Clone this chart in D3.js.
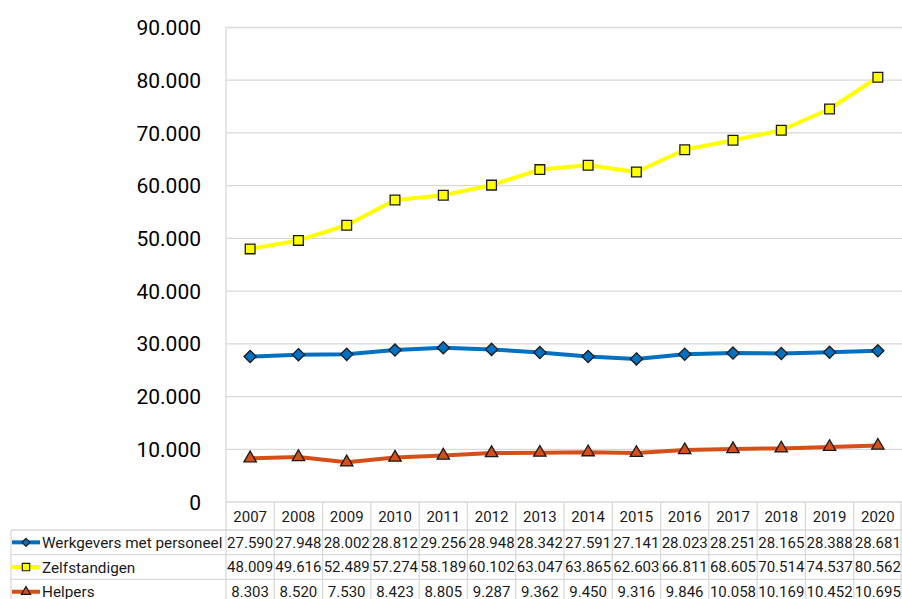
<!DOCTYPE html>
<html>
<head>
<meta charset="utf-8">
<script src="https://cdn.jsdelivr.net/npm/d3@7"></script>
<style>
body { margin: 0; background: #fff; }
svg { font-family: Roboto, "Noto Sans", sans-serif; }
</style>
</head>
<body>
<div id="chart"></div>
<script>
var years = ["2007", "2008", "2009", "2010", "2011", "2012", "2013", "2014", "2015", "2016", "2017", "2018", "2019", "2020"];

var werkgevers = [27590, 27948, 28002, 28812, 29256, 28948, 28342, 27591, 27141, 28023, 28251, 28165, 28388, 28681];
var zelfstandigen = [48009, 49616, 52489, 57274, 58189, 60102, 63047, 63865, 62603, 66811, 68605, 70514, 74537, 80562];
var helpers = [8303, 8520, 7530, 8423, 8805, 9287, 9362, 9450, 9316, 9846, 10058, 10169, 10452, 10695];

var seriesNames = ["Werkgevers met personeel", "Zelfstandigen", "Helpers"];
var yTicks = [0, 10000, 20000, 30000, 40000, 50000, 60000, 70000, 80000, 90000];

var series = [
    {name: seriesNames[0], values: werkgevers, color: "#0070c0", marker: "diamond"},
    {name: seriesNames[1], values: zelfstandigen, color: "#ffff00", marker: "square"},
    {name: seriesNames[2], values: helpers, color: "#d55019", marker: "triangle"}
];

var nl = d3.formatLocale({decimal: ",", thousands: ".", grouping: [3], currency: ["€", ""]});
var fmt = nl.format(",d");

var width = 902, height = 599;
var plotLeft = 226, plotRight = 902, plotTop = 27.5, plotBottom = 502;
var rowH = 24.7;

var svg = d3.select("#chart").append("svg")
    .attr("width", width)
    .attr("height", height);

var x = d3.scaleBand()
    .domain(years)
    .range([plotLeft, plotRight]);

var y = d3.scaleLinear()
    .domain([0, 90000])
    .range([plotBottom, plotTop]);

// gridlines
svg.append("g")
    .selectAll("line")
    .data(yTicks.slice(1))
    .enter().append("line")
    .attr("x1", plotLeft).attr("x2", plotRight)
    .attr("y1", function(d) { return y(d); })
    .attr("y2", function(d) { return y(d); })
    .attr("stroke", "#d9d9d9")
    .attr("stroke-width", 1.3);

// y labels
svg.append("g")
    .selectAll("text")
    .data(yTicks)
    .enter().append("text")
    .attr("x", 201)
    .attr("y", function(d) { return y(d); })
    .attr("dy", "0.36em")
    .attr("text-anchor", "end")
    .attr("font-size", 21)
    .attr("fill", "#000")
    .text(function(d) { return fmt(d); });

// table grid
var tableTop = plotBottom;
var gridColor = "#d9d9d9";
var tg = svg.append("g").attr("stroke", gridColor).attr("stroke-width", 1.3);

// vertical lines at band edges (axis included)
var edges = years.map(function(d) { return x(d); }).concat([plotRight - 1]);
tg.selectAll("line.v")
    .data(edges)
    .enter().append("line")
    .attr("class", "v")
    .attr("x1", function(d) { return d; }).attr("x2", function(d) { return d; })
    .attr("y1", function(d, i) { return i === 0 ? plotTop : tableTop; })
    .attr("y2", height);

// horizontal lines
var hLines = [tableTop, tableTop + 28, tableTop + 28 + rowH, tableTop + 28 + 2 * rowH];
tg.selectAll("line.h")
    .data(hLines)
    .enter().append("line")
    .attr("class", "h")
    .attr("x1", function(d, i) { return i === 0 ? plotLeft : 11; })
    .attr("x2", plotRight)
    .attr("y1", function(d) { return d; })
    .attr("y2", function(d) { return d; });

tg.append("line")
    .attr("x1", 11).attr("x2", 11)
    .attr("y1", tableTop + 28).attr("y2", height);

// year header
svg.append("g")
    .selectAll("text")
    .data(years)
    .enter().append("text")
    .attr("x", function(d) { return x(d) + x.bandwidth() / 2; })
    .attr("y", tableTop + 15)
    .attr("dy", "0.36em")
    .attr("text-anchor", "middle")
    .attr("font-size", 15)
    .attr("fill", "#1a1a1a")
    .text(function(d) { return d; });

var markerPath = {
    diamond: d3.symbol().type(d3.symbolDiamond2).size(95),
    square: d3.symbol().type(d3.symbolSquare2).size(120),
    triangle: d3.symbol().type(d3.symbolTriangle2).size(110)
};

var line = d3.line()
    .x(function(d, i) { return x(years[i]) + x.bandwidth() / 2; })
    .y(function(d) { return y(d); });

series.forEach(function(s, k) {
    var g = svg.append("g");
    g.append("path")
        .datum(s.values)
        .attr("fill", "none")
        .attr("stroke", s.color)
        .attr("stroke-width", 4)
        .attr("stroke-linejoin", "round")
        .attr("d", line);

    g.selectAll("path.mk")
        .data(s.values)
        .enter().append("path")
        .attr("class", "mk")
        .attr("transform", function(d, i) {
            return "translate(" + (x(years[i]) + x.bandwidth() / 2) + "," + y(d) + ")";
        })
        .attr("d", markerPath[s.marker])
        .attr("fill", s.color)
        .attr("stroke", "#1a1a1a")
        .attr("stroke-width", 1.3);

    // table row
    var rowY = tableTop + 28 + k * rowH + rowH / 2;
    var lg = svg.append("g");
    lg.append("line")
        .attr("x1", 12).attr("x2", 40)
        .attr("y1", rowY).attr("y2", rowY)
        .attr("stroke", s.color)
        .attr("stroke-width", 4);
    var legMark = {
        diamond: d3.symbol().type(d3.symbolDiamond2).size(40),
        square: d3.symbol().type(d3.symbolSquare2).size(70),
        triangle: d3.symbol().type(d3.symbolTriangle2).size(60)
    };
    lg.append("path")
        .attr("transform", "translate(26," + rowY + ")")
        .attr("d", legMark[s.marker])
        .attr("fill", s.color)
        .attr("stroke", "#1a1a1a")
        .attr("stroke-width", 1.2);
    lg.append("text")
        .attr("x", 42)
        .attr("y", rowY)
        .attr("dy", "0.36em")
        .attr("font-size", 15.3)
        .attr("fill", "#1a1a1a")
        .text(s.name);

    svg.append("g")
        .selectAll("text")
        .data(s.values)
        .enter().append("text")
        .attr("x", function(d, i) { return x(years[i]) + x.bandwidth() / 2; })
        .attr("y", rowY)
        .attr("dy", "0.36em")
        .attr("text-anchor", "middle")
        .attr("font-size", 15)
        .attr("fill", "#1a1a1a")
        .text(function(d) { return fmt(d); });
});
</script>
</body>
</html>
